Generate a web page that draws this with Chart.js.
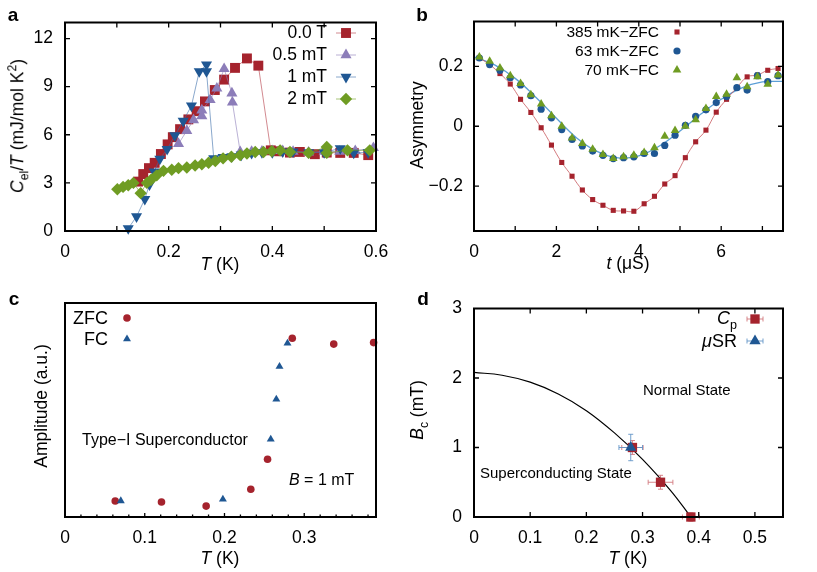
<!DOCTYPE html>
<html>
<head>
<meta charset="utf-8">
<script src="https://cdn.jsdelivr.net/npm/chart.js@4.4.0/dist/chart.umd.min.js"></script>
<style>
  body { margin: 0; background: #fff; width: 817px; height: 572px; overflow: hidden; position: relative;
         font-family: "Liberation Sans", Arial, Helvetica, sans-serif; color: #000; }
  canvas { position: absolute; }
  .t { position: absolute; white-space: nowrap; line-height: 1; z-index: 5; }
  .c { transform: translate(-50%, -50%); }
  .l { transform: translate(0, -50%); }
  .r { transform: translate(-100%, -50%); }
  .v { transform: translate(-50%, -50%) rotate(-90deg); }
  .ax { font-size: 17.5px; }
  .let { font-size: 19px; font-weight: bold; }
  sub, sup { font-size: 0.7em; line-height: 0; }
</style>
</head>
<body>
<canvas id="pa" width="408" height="286" style="left:0;top:0"></canvas>
<canvas id="pb" width="409" height="286" style="left:408px;top:0"></canvas>
<canvas id="pc" width="408" height="286" style="left:0;top:286px"></canvas>
<canvas id="pd" width="409" height="286" style="left:408px;top:286px"></canvas>

<!-- panel letters -->
<div class="t c let" style="left:13px;top:14px">a</div>
<div class="t c let" style="left:422px;top:14px">b</div>
<div class="t c let" style="left:14px;top:298px">c</div>
<div class="t c let" style="left:423px;top:298px">d</div>

<!-- axis titles -->
<div class="t v ax" style="left:18px;top:126px"><i>C</i><sub>el</sub>/<i>T</i> (mJ/mol K<sup>2</sup>)</div>
<div class="t c ax" style="left:220px;top:265px"><i>T</i> (K)</div>
<div class="t v ax" style="left:418px;top:125px">Asymmetry</div>
<div class="t c ax" style="left:628px;top:264px"><i>t</i> (μS)</div>
<div class="t v ax" style="left:42px;top:406px">Amplitude (a.u.)</div>
<div class="t c ax" style="left:220px;top:559px"><i>T</i> (K)</div>
<div class="t v ax" style="left:418px;top:410px"><i>B</i><sub>c</sub> (mT)</div>
<div class="t c ax" style="left:628px;top:559px"><i>T</i> (K)</div>

<!-- legends -->
<div class="t r" style="left:327px;top:33px;font-size:17.5px">0.0 T</div>
<div class="t r" style="left:327px;top:55px;font-size:17.5px">0.5 mT</div>
<div class="t r" style="left:327px;top:77px;font-size:17.5px">1 mT</div>
<div class="t r" style="left:327px;top:99px;font-size:17.5px">2 mT</div>

<div class="t r" style="left:659px;top:32px;font-size:15.5px">385 mK−ZFC</div>
<div class="t r" style="left:659px;top:51px;font-size:15.5px">63 mK−ZFC</div>
<div class="t r" style="left:659px;top:70px;font-size:15.5px">70 mK−FC</div>

<div class="t r" style="left:108px;top:318px;font-size:18px">ZFC</div>
<div class="t r" style="left:108px;top:339px;font-size:18px">FC</div>

<div class="t r" style="left:737px;top:318px;font-size:18px"><i>C</i><sub>p</sub></div>
<div class="t r" style="left:737px;top:341px;font-size:18px"><i>μ</i>SR</div>

<!-- labels inside the plots -->
<div class="t l" style="left:82px;top:440px;font-size:16px">Type−I Superconductor</div>
<div class="t l" style="left:289px;top:480px;font-size:16px"><i>B</i> = 1 mT</div>
<div class="t l" style="left:643px;top:389px;font-size:15px">Normal State</div>
<div class="t l" style="left:480px;top:472px;font-size:15px">Superconducting State</div>

<script>
// ---- panel a : specific heat ----
var aT0 = [0.141, 0.151, 0.162, 0.173, 0.185, 0.198, 0.208, 0.222, 0.238, 0.254, 0.270, 0.289, 0.307, 0.328, 0.351, 0.373, 0.397, 0.413, 0.434, 0.453, 0.482, 0.505, 0.531, 0.557, 0.585];
var aC0 = [3.08, 3.55, 3.92, 4.25, 4.80, 5.40, 5.85, 6.35, 6.96, 7.47, 8.08, 8.79, 9.44, 10.17, 10.76, 10.31, 5.03, 4.97, 4.89, 4.93, 4.79, 4.89, 4.87, 4.87, 4.73];
var aT05 = [0.219, 0.235, 0.248, 0.264, 0.264, 0.280, 0.293, 0.307, 0.322, 0.323, 0.338, 0.36, 0.38, 0.40, 0.42, 0.44, 0.47, 0.50, 0.53, 0.56, 0.595];
var aC05 = [5.44, 6.25, 6.92, 7.17, 7.53, 8.18, 8.89, 10.11, 8.59, 8.02, 4.93, 4.95, 4.97, 5.0, 5.0, 4.95, 4.9, 4.95, 4.95, 5.0, 5.18];
var aT1 = [0.122, 0.138, 0.154, 0.163, 0.172, 0.183, 0.197, 0.212, 0.228, 0.244, 0.259, 0.273, 0.273, 0.287, 0.305, 0.322, 0.34, 0.36, 0.38, 0.40, 0.42, 0.44, 0.47, 0.50, 0.531, 0.557, 0.585];
var aC1 = [0.16, 0.9, 1.99, 2.9, 3.7, 4.5, 5.1, 5.95, 6.86, 7.81, 9.95, 10.37, 9.95, 4.53, 4.6, 4.65, 4.75, 4.85, 4.9, 4.9, 4.95, 4.95, 4.9, 4.9, 5.15, 4.87, 4.9];
var aT2 = [0.101, 0.112, 0.122, 0.132, 0.146, 0.158, 0.166, 0.177, 0.19, 0.206, 0.219, 0.235, 0.251, 0.264, 0.277, 0.29, 0.305, 0.321, 0.338, 0.351, 0.367, 0.383, 0.399, 0.415, 0.434, 0.47, 0.505, 0.505, 0.545, 0.588];
var aC2 = [2.6, 2.75, 2.85, 3.0, 2.36, 3.0, 3.2, 3.47, 3.75, 3.82, 3.92, 3.96, 4.08, 4.16, 4.26, 4.36, 4.53, 4.63, 4.73, 4.83, 4.93, 4.93, 4.97, 5.03, 4.93, 4.87, 5.24, 4.87, 5.03, 5.03];
var aXLabels = [0, 0.2, 0.4, 0.6];
var aXMarks = [0.1, 0.2, 0.3, 0.4, 0.5];
var aYLabels = [0, 3, 6, 9, 12];

// ---- panel b : muSR asymmetry ----
var bT = [0.13, 0.38, 0.63, 0.88, 1.13, 1.38, 1.63, 1.88, 2.13, 2.38, 2.63, 2.88, 3.13, 3.38, 3.63, 3.88, 4.13, 4.38, 4.63, 4.88, 5.13, 5.38, 5.63, 5.88, 6.13, 6.38, 6.63, 6.88, 7.13, 7.38];
var bZfc385 = [0.228, 0.206, 0.176, 0.141, 0.090, 0.046, -0.005, -0.063, -0.121, -0.167, -0.213, -0.245, -0.264, -0.281, -0.283, -0.284, -0.259, -0.234, -0.193, -0.165, -0.105, -0.052, -0.013, 0.047, 0.090, 0.129, 0.165, 0.171, 0.187, 0.193];
var bZfc63 = [0.228, 0.206, 0.187, 0.162, 0.138, 0.102, 0.057, 0.028, -0.011, -0.044, -0.066, -0.083, -0.097, -0.108, -0.105, -0.102, -0.091, -0.091, -0.064, -0.030, 0.003, 0.033, 0.055, 0.079, 0.099, 0.129, 0.121, 0.169, 0.149, 0.169];
var bFc70 = [0.231, 0.217, 0.195, 0.169, 0.143, 0.105, 0.074, 0.035, 0.000, -0.039, -0.058, -0.077, -0.094, -0.108, -0.102, -0.097, -0.088, -0.072, -0.033, -0.014, 0.000, 0.022, 0.059, 0.099, 0.107, 0.162, 0.132, 0.165, 0.140, 0.171];
var bFitT = [0, 0.5, 1, 1.5, 2, 2.5, 3, 3.5, 4, 4.5, 5, 5.5, 6, 6.5, 7, 7.5];
var bFitA = [0.232, 0.205, 0.160, 0.097, 0.027, -0.040, -0.085, -0.106, -0.099, -0.066, -0.016, 0.040, 0.090, 0.128, 0.148, 0.150];
var bXLabels = [0, 2, 4, 6];
var bXMarks = [1, 2, 3, 4, 5, 6, 7];
var bYLabels = [-0.2, 0, 0.2];

// ---- panel c : amplitude vs T ----
var cZfcT = [0.063, 0.121, 0.177, 0.233, 0.254, 0.285, 0.337, 0.387];
var cZfcA = [0.075, 0.070, 0.051, 0.130, 0.270, 0.835, 0.808, 0.815];
var cFcT = [0.070, 0.198, 0.258, 0.265, 0.269, 0.279];
var cFcA = [0.075, 0.083, 0.363, 0.550, 0.703, 0.812];
var cXLabels = [0, 0.1, 0.2, 0.3];
var cXMarks = [0.1, 0.2, 0.3];
var cXMinor = [0.02, 0.04, 0.06, 0.08, 0.12, 0.14, 0.16, 0.18, 0.22, 0.24, 0.26, 0.28, 0.32, 0.34, 0.36, 0.38];

// ---- panel d : phase diagram ----
var dCpT = [0.282, 0.332, 0.386];
var dCpB = [1.0, 0.5, 0.0];
var dCpTErr = [0.019, 0.022, 0.015];
var dCpBErr = [0.1, 0.1, 0.06];
var dMuT = [0.279];
var dMuB = [1.0];
var dMuTErr = [0.021];
var dMuBErr = [0.19];
var dCurveT = [0, 0.05, 0.1, 0.15, 0.2, 0.25, 0.3, 0.35, 0.386];
var dCurveB = [2.08, 2.04, 1.94, 1.77, 1.53, 1.21, 0.83, 0.38, 0];
var dXLabels = [0, 0.1, 0.2, 0.3, 0.4, 0.5];
var dYLabels = [0, 1, 2, 3];

var RED = '#a5232d', PURPLE = '#8c7db9', BLUE = '#1f5793', GREEN = '#6f9c23';
var FONT = '"Liberation Sans", Arial, Helvetica, sans-serif';

function pts(xs, ys) {
    return xs.map(function (x, i) { return {x: x, y: ys[i]}; });
}

function fmt(v) {
    return (v < 0 ? '\u2212' : '') + String(Math.abs(v));
}

// linear axis with fixed size so the plot frame lands where the figure has it
function axis(min, max, labels, size, pad, show) {
    return {
        type: 'linear', min: min, max: max,
        grid: {display: false, drawTicks: false, tickLength: 0}, border: {display: false},
        afterBuildTicks: function (s) { s.ticks = labels.map(function (v) { return {value: v}; }); },
        afterFit: function (s) {
            if (s.isHorizontal()) s.height = size; else s.width = size;
        },
        ticks: {display: show !== false, padding: pad, color: '#000', autoSkip: false, maxRotation: 0,
                font: {family: FONT, size: 17.5}, callback: fmt}
    };
}

// box + inward tick marks
var framePlugin = {
    id: 'frame',
    afterDatasetsDraw: function (chart, args, o) {
        var ctx = chart.ctx, a = chart.chartArea, sx = chart.scales.x, sy = chart.scales.y;
        ctx.save();
        ctx.strokeStyle = '#000';
        ctx.lineWidth = 1.3;
        ctx.beginPath();
        function xt(list, len) {
            (list || []).forEach(function (v) {
                var p = sx.getPixelForValue(v);
                ctx.moveTo(p, a.bottom); ctx.lineTo(p, a.bottom - len);
                if (o.mirror) { ctx.moveTo(p, a.top); ctx.lineTo(p, a.top + len); }
            });
        }
        function yt(list, len) {
            (list || []).forEach(function (v) {
                var p = sy.getPixelForValue(v);
                ctx.moveTo(a.left, p); ctx.lineTo(a.left + len, p);
                if (o.mirror) { ctx.moveTo(a.right, p); ctx.lineTo(a.right - len, p); }
            });
        }
        xt(o.x, o.len);
        xt(o.xMinor, o.minorLen);
        yt(o.y, o.len);
        ctx.stroke();
        ctx.lineWidth = 2;
        ctx.strokeRect(a.left, a.top, a.right - a.left, a.bottom - a.top);
        ctx.restore();
    }
};

// legend markers (text is in the page)
var keyPlugin = {
    id: 'key',
    afterDraw: function (chart, args, o) {
        var ctx = chart.ctx, ox = chart.canvas.offsetLeft, oy = chart.canvas.offsetTop;
        (o.items || []).forEach(function (k) {
            var x = k.x - ox, y = k.y - oy;
            ctx.save();
            if (k.line) {
                ctx.strokeStyle = k.lineColor; ctx.lineWidth = 1;
                ctx.beginPath(); ctx.moveTo(x - k.line, y); ctx.lineTo(x + k.line, y); ctx.stroke();
            }
            if (k.err) {
                ctx.strokeStyle = k.errColor; ctx.lineWidth = 1;
                ctx.beginPath();
                ctx.moveTo(x - k.err, y); ctx.lineTo(x + k.err, y);
                ctx.moveTo(x - k.err, y - 2.5); ctx.lineTo(x - k.err, y + 2.5);
                ctx.moveTo(x + k.err, y - 2.5); ctx.lineTo(x + k.err, y + 2.5);
                ctx.stroke();
            }
            ctx.fillStyle = k.color;
            Chart.helpers.drawPoint(ctx, {pointStyle: k.style, radius: k.r, rotation: k.rot || 0, borderWidth: 0}, x, y);
            ctx.restore();
        });
    }
};

// error bars for panel d
var errPlugin = {
    id: 'errbars',
    beforeDatasetsDraw: function (chart, args, o) {
        var ctx = chart.ctx, sx = chart.scales.x, sy = chart.scales.y;
        (o.sets || []).forEach(function (s) {
            ctx.save();
            ctx.strokeStyle = s.color; ctx.lineWidth = 1;
            ctx.beginPath();
            s.x.forEach(function (xv, i) {
                var px = sx.getPixelForValue(xv), py = sy.getPixelForValue(s.y[i]);
                var x1 = sx.getPixelForValue(xv - s.xe[i]), x2 = sx.getPixelForValue(xv + s.xe[i]);
                var y1 = sy.getPixelForValue(s.y[i] - s.ye[i]), y2 = sy.getPixelForValue(s.y[i] + s.ye[i]);
                ctx.moveTo(x1, py); ctx.lineTo(x2, py);
                ctx.moveTo(x1, py - 2.5); ctx.lineTo(x1, py + 2.5);
                ctx.moveTo(x2, py - 2.5); ctx.lineTo(x2, py + 2.5);
                ctx.moveTo(px, y1); ctx.lineTo(px, y2);
                ctx.moveTo(px - 2.5, y1); ctx.lineTo(px + 2.5, y1);
                ctx.moveTo(px - 2.5, y2); ctx.lineTo(px + 2.5, y2);
            });
            ctx.stroke();
            ctx.restore();
        });
    }
};

function baseOptions(pad, xAxis, yAxis, extra) {
    var plugins = {legend: {display: false}, tooltip: {enabled: false}};
    for (var k in extra) plugins[k] = extra[k];
    return {
        responsive: false, animation: false, events: [],
        layout: {padding: pad},
        scales: {x: xAxis, y: yAxis},
        plugins: plugins
    };
}

function marker(data, style, r, color, order, more) {
    var d = {data: data, pointStyle: style, pointRadius: r, pointBackgroundColor: color,
             pointBorderColor: color, pointBorderWidth: 0, showLine: false, order: order, clip: false};
    for (var k in more) d[k] = more[k];
    return d;
}

// panel a
new Chart('pa', {
    type: 'scatter',
    data: {datasets: [
        marker(pts(aT0, aC0), 'rect', 7, RED, 3, {showLine: true, borderColor: 'rgba(180,60,70,0.6)', borderWidth: 1}),
        marker(pts(aT05, aC05), 'triangle', 6.4, PURPLE, 2, {showLine: true, borderColor: 'rgba(140,125,185,0.6)', borderWidth: 1}),
        marker(pts(aT1, aC1), 'triangle', 6.4, BLUE, 1, {pointRotation: 180, showLine: true, borderColor: 'rgba(60,110,170,0.6)', borderWidth: 1}),
        marker(pts(aT2, aC2), 'rectRot', 6.2, GREEN, 0, {showLine: true, borderColor: 'rgba(111,156,35,0.6)', borderWidth: 1})
    ]},
    options: baseOptions({left: 0, top: 18, right: 32, bottom: 0},
        axis(0, 0.6, aXLabels, 55, 11),
        axis(0, 13, aYLabels, 65, 12),
        {frame: {x: aXMarks, y: aYLabels, len: 5, mirror: true},
         key: {items: [
            {x: 346, y: 33, style: 'rect', r: 7, color: RED, line: 10, lineColor: 'rgba(180,60,70,0.6)'},
            {x: 346, y: 55, style: 'triangle', r: 6.4, color: PURPLE, line: 10, lineColor: 'rgba(140,125,185,0.6)'},
            {x: 346, y: 77, style: 'triangle', r: 6.4, rot: 180, color: BLUE, line: 10, lineColor: 'rgba(60,110,170,0.6)'},
            {x: 346, y: 99, style: 'rectRot', r: 6.2, color: GREEN, line: 10, lineColor: 'rgba(111,156,35,0.6)'}
         ]}}),
    plugins: [framePlugin, keyPlugin]
});

// panel b
new Chart('pb', {
    type: 'scatter',
    data: {datasets: [
        marker(pts(bT, bZfc385), 'rect', 3.6, RED, 2, {showLine: true, tension: 0.4, borderColor: 'rgba(200,90,95,0.8)', borderWidth: 1}),
        marker(pts(bT, bZfc63), 'circle', 3.6, BLUE, 1),
        marker(pts(bT, bFc70), 'triangle', 5, GREEN, 0),
        {data: pts(bFitT, bFitA), showLine: true, tension: 0.4, pointRadius: 0, borderColor: '#5b9fd6', borderWidth: 1.3, order: 3}
    ]},
    options: baseOptions({left: 0, top: 18, right: 34, bottom: 0},
        axis(0, 7.5, bXLabels, 55, 11),
        axis(-0.35, 0.35, bYLabels, 66, 11),
        {frame: {x: bXMarks, y: bYLabels, len: 5, mirror: true},
         key: {items: [
            {x: 677, y: 32, style: 'rect', r: 3.6, color: RED},
            {x: 677, y: 51, style: 'circle', r: 3.6, color: BLUE},
            {x: 677, y: 70, style: 'triangle', r: 5, color: GREEN}
         ]}}),
    plugins: [framePlugin, keyPlugin]
});

// panel c
new Chart('pc', {
    type: 'scatter',
    data: {datasets: [
        marker(pts(cZfcT, cZfcA), 'circle', 3.8, RED, 1),
        marker(pts(cFcT, cFcA), 'triangle', 4.6, BLUE, 0)
    ]},
    options: baseOptions({left: 0, top: 17, right: 32, bottom: 0},
        axis(0, 0.39, cXLabels, 55, 11),
        axis(0, 1, [], 65, 12, false),
        {frame: {x: cXMarks, xMinor: cXMinor, len: 4, minorLen: 2.5, mirror: false},
         key: {items: [
            {x: 127, y: 318, style: 'circle', r: 3.8, color: RED},
            {x: 127, y: 339, style: 'triangle', r: 4.6, color: BLUE}
         ]}}),
    plugins: [framePlugin, keyPlugin]
});

// panel d
new Chart('pd', {
    type: 'scatter',
    data: {datasets: [
        {data: pts(dCurveT, dCurveB), showLine: true, tension: 0.4, pointRadius: 0, borderColor: '#000', borderWidth: 1.2, order: 2},
        marker(pts(dCpT, dCpB), 'rect', 6.6, RED, 1),
        marker(pts(dMuT, dMuB), 'triangle', 6.5, BLUE, 0)
    ]},
    options: baseOptions({left: 0, top: 17, right: 34, bottom: 0},
        axis(0, 0.55, dXLabels, 55, 11),
        axis(0, 3, dYLabels, 66, 12),
        {frame: {x: [0.1, 0.2, 0.3, 0.4, 0.5], y: [1, 2], len: 5, mirror: true},
         errbars: {sets: [
            {x: dCpT, y: dCpB, xe: dCpTErr, ye: dCpBErr, color: 'rgba(210,120,125,0.9)'},
            {x: dMuT, y: dMuB, xe: dMuTErr, ye: dMuBErr, color: 'rgba(100,150,200,0.9)'}
         ]},
         key: {items: [
            {x: 755, y: 319, style: 'rect', r: 6.6, color: RED, err: 8, errColor: 'rgba(210,120,125,0.9)'},
            {x: 755, y: 341, style: 'triangle', r: 6.5, color: BLUE, err: 8, errColor: 'rgba(100,150,200,0.9)'}
         ]}}),
    plugins: [framePlugin, errPlugin, keyPlugin]
});
</script>
</body>
</html>
